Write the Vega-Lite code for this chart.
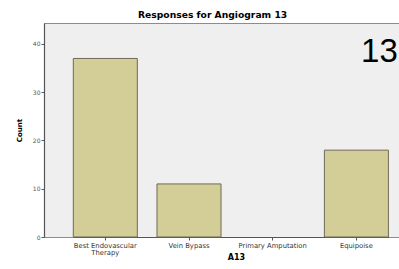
{
  "$schema": "https://vega.github.io/schema/vega-lite/v6.json",
  "autosize": "none",
  "width": 355,
  "height": 214,
  "padding": {"left": 44, "top": 23, "right": 0, "bottom": 32},
  "background": "#ffffff",
  "title": {
    "text": "Responses for Angiogram 13",
    "font": "DejaVu Sans",
    "fontSize": 9.2,
    "fontWeight": "bold",
    "color": "#000000",
    "anchor": "start",
    "frame": "group",
    "dx": 94,
    "dy": 9,
    "offset": 3,
    "baseline": "bottom"
  },
  "config": {
    "view": {"fill": "#efefef", "stroke": "#8c8c8c", "strokeWidth": 1}
  },
  "data": {
    "values": [
      {"A13": "Best Endovascular Therapy", "Count": 37},
      {"A13": "Vein Bypass", "Count": 11},
      {"A13": "Primary Amputation", "Count": 0},
      {"A13": "Equipoise", "Count": 18}
    ]
  },
  "layer": [
    {
      "mark": {"type": "bar", "fill": "#d3ce97", "stroke": "#6e6a55", "strokeWidth": 1},
      "encoding": {
        "x": {
          "field": "A13",
          "type": "nominal",
          "sort": null,
          "scale": {"range": [29.3, 344.4], "paddingInner": 0.235, "paddingOuter": 0},
          "axis": {
            "title": "A13",
            "titleFont": "DejaVu Sans",
            "titleFontSize": 8,
            "titleFontWeight": "bold",
            "titleColor": "#000000",
            "titleX": 192,
            "titleY": 16,
            "labelAngle": 0,
            "labelFont": "DejaVu Sans",
            "labelFontSize": 6.8,
            "labelColor": "#333333",
            "labelPadding": 2,
            "labelLineHeight": 7,
            "labelExpr": "datum.label == 'Best Endovascular Therapy' ? ['Best Endovascular', 'Therapy'] : datum.label",
            "tickSize": 3,
            "tickColor": "#555555",
            "domainColor": "#555555",
            "domainWidth": 1.2
          }
        },
        "y": {
          "field": "Count",
          "type": "quantitative",
          "scale": {"domain": [0, 44.35], "nice": false},
          "axis": {
            "title": "Count",
            "titleFont": "DejaVu Sans",
            "titleFontSize": 7,
            "titleFontWeight": "bold",
            "titleColor": "#000000",
            "titlePadding": 10,
            "values": [0, 10, 20, 30, 40],
            "format": ".0f",
            "labelFont": "DejaVu Sans",
            "labelFontSize": 6,
            "labelColor": "#555555",
            "labelPadding": 1,
            "tickSize": 3,
            "tickColor": "#555555",
            "domainColor": "#555555",
            "domainWidth": 1.2,
            "grid": false
          }
        },
        "strokeOpacity": {
          "condition": {"test": "datum.Count == 0", "value": 0},
          "value": 1
        }
      }
    },
    {
      "data": {"values": [{"A13": "Equipoise", "Count": 38.3, "note": "13"}]},
      "mark": {"type": "text", "font": "Liberation Sans", "fontSize": 33, "color": "#000000", "dx": 23, "baseline": "middle"},
      "encoding": {
        "x": {"field": "A13", "type": "nominal", "sort": null},
        "y": {"field": "Count", "type": "quantitative"},
        "text": {"field": "note"}
      }
    }
  ]
}
